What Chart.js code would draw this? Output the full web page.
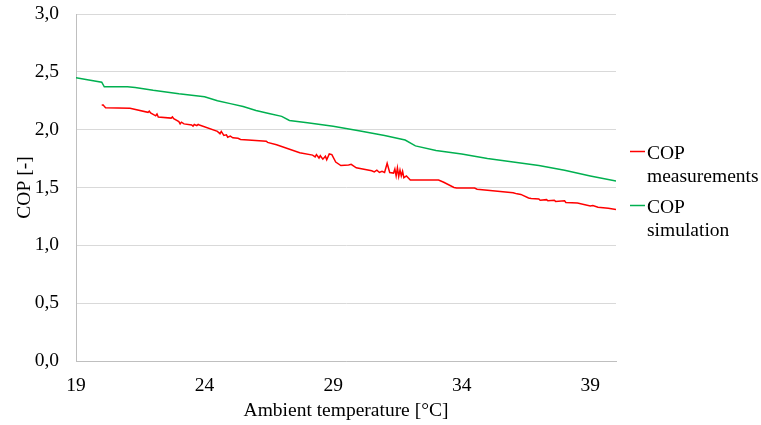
<!DOCTYPE html>
<html>
<head>
<meta charset="utf-8">
<title>COP vs ambient temperature</title>
<script src="https://cdn.jsdelivr.net/npm/chart.js@4.4.0/dist/chart.umd.min.js"></script>
<style>
  html, body { margin: 0; padding: 0; background: #fff; }
  #wrap { width: 761px; height: 425px; }
</style>
</head>
<body>
<div id="wrap"><canvas id="cop" width="761" height="425"></canvas></div>
<script>
// series and axis values
const seriesNames = ['COP measurements', 'COP simulation'];
const seriesColors = ['#ff0000', '#00b050'];

const measuredTemp = [
  20.0, 20.05, 20.15, 21.1, 21.8, 21.85, 21.9, 22.1, 22.15, 22.2,
  22.7, 22.75, 22.8, 23.0, 23.05, 23.1, 23.2, 23.5, 23.55, 23.6,
  23.7, 23.75, 23.8, 24.5, 24.6, 24.65, 24.75, 24.85, 24.9, 25.0,
  25.1, 25.3, 25.4, 25.7, 26.4, 26.45, 26.8, 27.7, 28.2, 28.3,
  28.35, 28.45, 28.5, 28.6, 28.7, 28.75, 28.85, 28.95, 29.1, 29.3,
  29.6, 29.7, 29.9, 30.5, 30.6, 30.7, 30.8, 30.9, 31.0, 31.1,
  31.2, 31.35, 31.4, 31.45, 31.5, 31.55, 31.6, 31.65, 31.7, 31.75,
  31.85, 32.0, 33.1, 33.3, 33.7, 33.8, 34.5, 34.6, 36.0, 36.15,
  36.3, 36.6, 36.7, 37.0, 37.05, 37.3, 37.35, 37.6, 37.65, 38.0,
  38.05, 38.5, 39.0, 39.1, 39.3, 39.7, 40.0
];
const measuredCop = [
  2.21, 2.215, 2.19, 2.185, 2.15, 2.16, 2.145, 2.12, 2.135, 2.11,
  2.10, 2.11, 2.095, 2.07, 2.05, 2.065, 2.05, 2.04, 2.03, 2.045,
  2.035, 2.045, 2.04, 1.985, 1.965, 1.985, 1.95, 1.955, 1.935, 1.945,
  1.93, 1.925, 1.915, 1.91, 1.90, 1.89, 1.87, 1.80, 1.78, 1.765,
  1.785, 1.755, 1.775, 1.745, 1.77, 1.74, 1.79, 1.785, 1.72, 1.69,
  1.695, 1.70, 1.67, 1.645, 1.635, 1.65, 1.63, 1.64, 1.63, 1.71,
  1.63, 1.625, 1.66, 1.60, 1.67, 1.595, 1.65, 1.60, 1.64, 1.585,
  1.60, 1.565, 1.565, 1.545, 1.50, 1.495, 1.495, 1.485, 1.455, 1.445,
  1.44, 1.41, 1.405, 1.40, 1.39, 1.395, 1.385, 1.39, 1.38, 1.385,
  1.37, 1.365, 1.34, 1.345, 1.33, 1.32, 1.31
];

const simTemp = [
  19.0, 19.5, 20.0, 20.1, 21.0, 21.3, 22.0, 23.0, 24.0, 24.5,
  25.0, 25.5, 26.0, 26.5, 27.0, 27.3, 28.0, 29.0, 30.0, 31.0,
  31.8, 32.2, 33.0, 34.0, 35.0, 36.0, 37.0, 38.0, 39.0, 40.0
];
const simCop = [
  2.45, 2.43, 2.41, 2.37, 2.37, 2.365, 2.34, 2.31, 2.285, 2.25,
  2.225, 2.20, 2.165, 2.14, 2.115, 2.08, 2.06, 2.03, 1.99, 1.95,
  1.91, 1.86, 1.82, 1.79, 1.75, 1.72, 1.69, 1.65, 1.60, 1.555
];

const xTicks = [19, 24, 29, 34, 39];
const yTicks = [0, 0.5, 1.0, 1.5, 2.0, 2.5, 3.0];

const serif = '"Liberation Serif", "Times New Roman", serif';
const fontSize = 19.5;

function toPoints(xs, ys) {
  return xs.map((x, i) => ({ x: x, y: ys[i] }));
}

// two-line legend to the right of the plot
const sideLegend = {
  id: 'sideLegend',
  afterDraw(chart) {
    const ctx = chart.ctx;
    const left = chart.chartArea.right + 14;
    ctx.save();
    ctx.font = fontSize + 'px ' + serif;
    ctx.fillStyle = '#000';
    ctx.textBaseline = 'alphabetic';
    chart.data.datasets.forEach((ds, i) => {
      const base = 158.5 + i * 54;
      ctx.strokeStyle = ds.borderColor;
      ctx.lineWidth = 1.5;
      ctx.beginPath();
      ctx.moveTo(left, base - 7);
      ctx.lineTo(left + 15, base - 7);
      ctx.stroke();
      const words = ds.label.split(' ');
      ctx.fillText(words[0], left + 17, base);
      ctx.fillText(words.slice(1).join(' '), left + 17, base + 23.5);
    });
    ctx.restore();
  }
};

new Chart(document.getElementById('cop'), {
  type: 'line',
  data: {
    datasets: [
      {
        label: seriesNames[0],
        data: toPoints(measuredTemp, measuredCop),
        borderColor: seriesColors[0],
        borderWidth: 1.5,
        pointRadius: 0,
        tension: 0,
        fill: false
      },
      {
        label: seriesNames[1],
        data: toPoints(simTemp, simCop),
        borderColor: seriesColors[1],
        borderWidth: 1.5,
        pointRadius: 0,
        tension: 0,
        fill: false
      }
    ]
  },
  options: {
    responsive: false,
    animation: false,
    devicePixelRatio: 1,
    layout: { padding: { left: 9, right: 145, top: 14, bottom: 2 } },
    plugins: {
      legend: { display: false },
      tooltip: { enabled: false }
    },
    scales: {
      x: {
        type: 'linear',
        min: 19,
        max: 40,
        afterBuildTicks: axis => { axis.ticks = xTicks.map(v => ({ value: v })); },
        afterFit: axis => { axis.height = 62; },
        grid: { drawOnChartArea: false, drawTicks: false },
        border: { color: '#bfbfbf', width: 1 },
        ticks: {
          padding: 13,
          color: '#000',
          font: { family: serif, size: fontSize },
          maxRotation: 0
        },
        title: {
          display: true,
          text: 'Ambient temperature [°C]',
          color: '#000',
          font: { family: serif, size: fontSize },
          padding: { top: 2, bottom: 0 }
        }
      },
      y: {
        min: 0,
        max: 3,
        afterBuildTicks: axis => { axis.ticks = yTicks.map(v => ({ value: v })); },
        afterFit: axis => {
          // keep the plot top at the layout padding, not pushed down by label padding
          axis.width = 67;
          axis.paddingTop = 0;
          axis.paddingBottom = 0;
        },
        grid: { color: '#d9d9d9', drawTicks: false },
        border: { color: '#bfbfbf', width: 1 },
        ticks: {
          padding: 17,
          color: '#000',
          font: { family: serif, size: fontSize },
          callback: v => v.toFixed(1).replace('.', ',')
        },
        title: {
          display: true,
          text: 'COP [-]',
          color: '#000',
          font: { family: serif, size: fontSize },
          padding: { top: 4, bottom: 4 }
        }
      }
    }
  },
  plugins: [sideLegend]
});
</script>
</body>
</html>
